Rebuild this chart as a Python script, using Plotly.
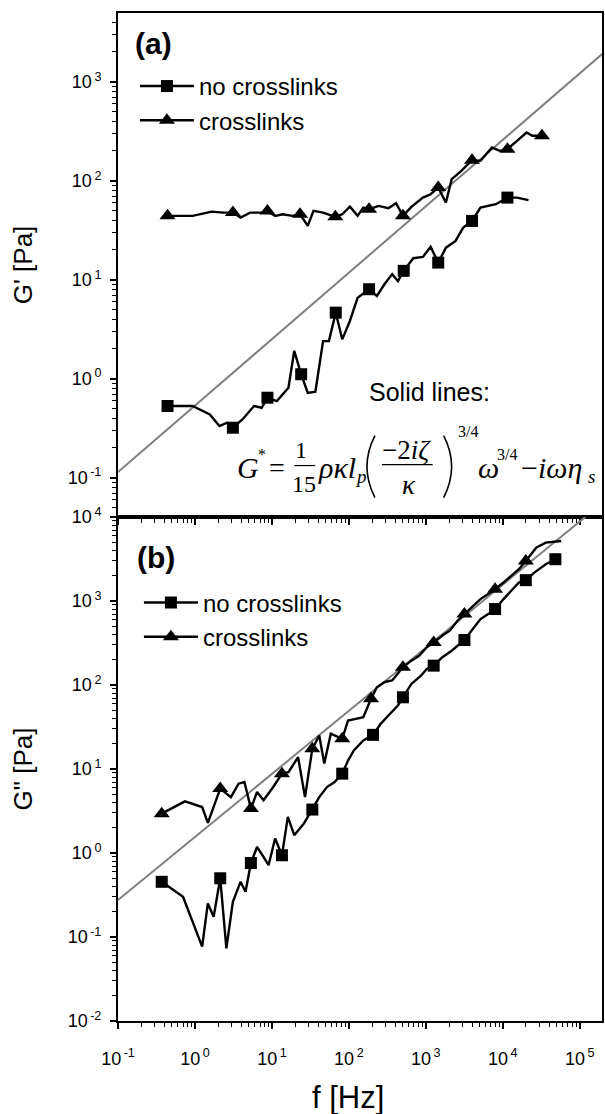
import plotly.graph_objects as go
from plotly.subplots import make_subplots

# ---------------- data ----------------
# Panel (a): G' vs f
a_nox_f = [0.44, 0.93, 1.56, 2.08, 2.62, 3.11, 4.14, 5.85, 7.36, 8.74, 11.6, 16.4, 19.5, 24.0,
           29.2, 36.7, 46.2, 55, 67.5, 82, 103, 130, 183, 231, 290, 365, 434, 516, 687, 916,
           1153, 1449, 1824, 2432, 3062, 3984, 5129, 8128, 11480, 15280, 21580]
a_nox_g = [0.53, 0.53, 0.436, 0.333, 0.359, 0.32, 0.388, 0.53, 0.509, 0.643, 0.594, 0.81, 1.91,
           1.11, 0.72, 0.74, 2.40, 2.40, 4.65, 2.50, 3.83, 6.59, 8.02, 6.86, 9.0, 11.4, 9.7, 12.3,
           16.5, 17.0, 21.5, 14.9, 21.1, 24.7, 33.6, 39.3, 53.6, 58, 67.6, 67.6, 63.7]
a_nox_mark = [1, 0, 0, 0, 0, 1, 0, 0, 0, 1, 0, 0, 0, 1, 0, 0, 0, 0, 1, 0, 0, 0, 1, 0, 0, 0, 0, 1,
              0, 0, 0, 1, 0, 0, 0, 1, 0, 0, 1, 0, 0]

a_x_f = [0.44, 0.93, 1.65, 2.33, 3.11, 3.91, 5.21, 7.36, 8.74, 11.0, 13.8, 18.4, 23.2, 29.2,
         34.7, 46.2, 66.7, 82, 103, 130, 154, 183, 244, 326, 410, 504, 649, 916, 1153, 1449,
         1824, 2168, 2891, 3984, 5129, 7244, 9120, 11480, 15280, 20370, 24210, 32280]
a_x_g = [44.2, 44.2, 48.8, 47.7, 47.7, 42.5, 47.7, 47.7, 49.6, 44.2, 45.9, 44.2, 45.9, 35,
         49.6, 47.7, 43.2, 45.9, 54.8, 44.2, 53.6, 51.6, 55.7, 52.8, 59.3, 44.2, 54.5, 67.6,
         73.1, 85.4, 60.2, 103.7, 126, 161.5, 159, 216.6, 200.6, 208.6, 253, 307, 284.5, 284.5]
a_x_mark = [1, 0, 0, 0, 1, 0, 0, 0, 1, 0, 0, 0, 1, 0, 0, 0, 1, 0, 0, 0, 0, 1, 0, 0, 0, 1, 0, 0,
            0, 1, 0, 0, 0, 1, 0, 0, 0, 1, 0, 0, 0, 1]

# Panel (b): G'' vs f
b_nox_f = [0.37, 0.70, 1.24, 1.47, 1.75, 2.13, 2.56, 3.11, 3.91, 4.54, 5.33, 6.41, 7.78, 9.04,
           11.0, 13.5, 16.1, 19.5, 26.0, 29.2, 33.5, 41.2, 51.9, 65.2, 82, 97.5, 116, 154, 206,
           259, 326, 434, 504, 649, 865, 1028, 1264, 1626, 2168, 2729, 3170, 4074, 5129, 6457,
           7943, 10230, 12850, 16180, 19900, 25650, 36140, 48200]
b_nox_g = [0.454, 0.301, 0.0767, 0.251, 0.174, 0.50, 0.0734, 0.262, 0.454, 0.345, 0.76, 1.18,
           0.90, 0.716, 1.49, 0.94, 2.69, 1.63, 2.24, 2.69, 3.29, 4.63, 6.10, 6.99, 8.8, 12.6,
           16.6, 21.9, 25.5, 34.5, 43.3, 56.9, 71.4, 103, 129, 155, 170, 213, 256, 307, 343, 463,
           610, 698, 802, 1054, 1321, 1660, 1771, 2180, 2742, 3143]
b_nox_mark = [1, 0, 0, 0, 0, 1, 0, 0, 0, 0, 1, 0, 0, 0, 0, 1, 0, 0, 0, 0, 1, 0, 0, 0, 1, 0, 0,
              0, 1, 0, 0, 0, 1, 0, 0, 0, 1, 0, 0, 0, 1, 0, 0, 0, 1, 0, 0, 0, 1, 0, 0, 1]

b_x_f = [0.37, 0.74, 1.24, 1.47, 2.13, 2.93, 3.69, 4.39, 5.33, 6.41, 7.78, 10.4, 13.5, 16.4,
         21.9, 26.9, 33.5, 41.2, 47.9, 58.2, 82, 97.5, 123, 154, 194, 231, 290, 365, 504, 649,
         817, 1028, 1264, 1626, 2046, 2576, 3170, 4074, 5129, 6457, 7943, 10230, 12850, 16180,
         19900, 27160, 36140, 57280]
b_x_g = [2.94, 4.12, 3.53, 2.28, 5.84, 4.63, 6.69, 6.99, 3.38, 5.32, 4.24, 6.10, 8.8, 9.19,
         13.8, 4.63, 17.4, 25.1, 11.6, 26.3, 22.9, 37.8, 39.5, 41.3, 68.4, 94, 108, 113, 162.5,
         195, 223, 281, 321, 386, 443, 582, 698, 877, 1054, 1208, 1384, 1660, 1992, 2393, 3002,
         4318, 4955, 5188]
b_x_mark = [1, 0, 0, 0, 1, 0, 0, 0, 1, 0, 0, 0, 1, 0, 0, 0, 1, 0, 0, 0, 1, 0, 0, 0, 1, 0, 0, 0,
            1, 0, 0, 0, 1, 0, 0, 0, 1, 0, 0, 0, 1, 0, 0, 0, 1, 0, 0, 0]

# theory ("solid lines") endpoints
fit_f = [0.1, 195000]
fit_a = [0.114, 1905]
fit_b = [0.275, 14600]

series_names = ["no crosslinks", "crosslinks"]

TS = "\u2009"
x_tickvals = [0.1, 1, 10, 100, 1000, 10000, 100000]
x_ticktext = ["10<sup>" + TS + "-1</sup>", "10<sup>" + TS + "0</sup>", "10<sup>" + TS + "1</sup>",
              "10<sup>" + TS + "2</sup>", "10<sup>" + TS + "3</sup>", "10<sup>" + TS + "4</sup>",
              "10<sup>" + TS + "5</sup>"]
ya_tickvals = [0.1, 1, 10, 100, 1000]
ya_ticktext = ["10<sup>" + TS + "-1</sup>", "10<sup>" + TS + "0</sup>", "10<sup>" + TS + "1</sup>",
               "10<sup>" + TS + "2</sup>", "10<sup>" + TS + "3</sup>"]
yb_tickvals = [0.01, 0.1, 1, 10, 100, 1000, 10000]
yb_ticktext = ["10<sup>" + TS + "-2</sup>", "10<sup>" + TS + "-1</sup>", "10<sup>" + TS + "0</sup>",
               "10<sup>" + TS + "1</sup>", "10<sup>" + TS + "2</sup>", "10<sup>" + TS + "3</sup>",
               "10<sup>" + TS + "4</sup>"]

# ---------------- layout geometry ----------------
W, H = 605, 1114
ML, MR, MT, MB = 118, 1, 12, 93
PW = W - ML - MR
PH = H - MT - MB


def px(x):
    return (x - ML) / PW


def py(y):
    return (H - MB - y) / PH


SANS = "Liberation Sans, Arial, Helvetica, sans-serif"
SERIF = "Liberation Serif, Times New Roman, serif"

fig = make_subplots(rows=2, cols=1, vertical_spacing=0)


def minor_vals(lo, hi):
    vals = []
    for e in range(lo, hi + 1):
        for k in range(2, 10):
            vals.append(k * 10.0 ** e)
    return vals


def add_series(f, g, flags, symbol, msize, name, row, legend, group):
    fig.add_trace(go.Scatter(
        x=f, y=g, mode="lines+markers", name=name, legend=legend, legendgroup=group,
        line=dict(color="black", width=2.4),
        marker=dict(symbol=symbol, size=msize, opacity=1, line=dict(width=0),
                    color=["black" if m else "rgba(0,0,0,0)" for m in flags]),
    ), row=row, col=1)


# theory lines
fig.add_trace(go.Scatter(x=fit_f, y=fit_a, mode="lines", showlegend=False,
                         line=dict(color="#7f7f7f", width=2)), row=1, col=1)
fig.add_trace(go.Scatter(x=fit_f, y=fit_b, mode="lines", showlegend=False,
                         line=dict(color="#7f7f7f", width=2)), row=2, col=1)

add_series(a_nox_f, a_nox_g, a_nox_mark, "square", 12, series_names[0], 1, "legend", "a1")
add_series(a_x_f, a_x_g, a_x_mark, "triangle-up", 14, series_names[1], 1, "legend", "a2")
add_series(b_nox_f, b_nox_g, b_nox_mark, "square", 12, series_names[0], 2, "legend2", "b1")
add_series(b_x_f, b_x_g, b_x_mark, "triangle-up", 14, series_names[1], 2, "legend2", "b2")

axis_common = dict(
    type="log", showline=True, linecolor="black", linewidth=2, mirror=True,
    ticks="outside", ticklen=6, tickwidth=1.5, tickcolor="black",
    showgrid=False, zeroline=False,
    tickfont=dict(family=SANS, size=18, color="black"),
)

fig.update_xaxes(range=[-1, 5.289], tickmode="array", tickvals=x_tickvals, ticktext=x_ticktext,
                 minor=dict(tickmode="array", tickvals=minor_vals(-1, 5), ticks="outside",
                            ticklen=4, tickwidth=1.2, tickcolor="black", showgrid=False),
                 **axis_common)
fig.update_xaxes(showticklabels=False, row=1, col=1)
fig.update_xaxes(ticklabelstandoff=14, row=2, col=1)

fig.update_yaxes(range=[-1.397, 3.695], tickmode="array", tickvals=ya_tickvals,
                 ticktext=ya_ticktext, ticklabelstandoff=5,
                 minor=dict(tickmode="array", tickvals=minor_vals(-2, 3), ticks="outside",
                            ticklen=4, tickwidth=1.2, tickcolor="black", showgrid=False),
                 title=dict(text="G' [Pa]", font=dict(family=SANS, size=26, color="black"),
                            standoff=28),
                 row=1, col=1, **axis_common)
fig.update_yaxes(range=[-2, 4], tickmode="array", tickvals=yb_tickvals, ticktext=yb_ticktext,
                 ticklabelstandoff=5,
                 minor=dict(tickmode="array", tickvals=minor_vals(-2, 3), ticks="outside",
                            ticklen=4, tickwidth=1.2, tickcolor="black", showgrid=False),
                 title=dict(text='G" [Pa]', font=dict(family=SANS, size=26, color="black"),
                            standoff=28),
                 row=2, col=1, **axis_common)

legend_common = dict(xanchor="left", yanchor="top", bgcolor="rgba(0,0,0,0)", borderwidth=0,
                     font=dict(family=SANS, size=24, color="black"), itemsizing="trace",
                     itemwidth=54, traceorder="grouped", tracegroupgap=0)

annotations = [
    dict(text="<b>(a)</b>", x=px(133), y=py(43), xanchor="left", yanchor="middle",
         font=dict(family=SANS, size=30, color="black")),
    dict(text="<b>(b)</b>", x=px(135), y=py(557), xanchor="left", yanchor="middle",
         font=dict(family=SANS, size=30, color="black")),
    dict(text="Solid lines:", x=px(368), y=py(391), xanchor="left", yanchor="middle",
         font=dict(family=SANS, size=25, color="black")),
    dict(text="f [Hz]", x=px(349), y=py(1098), xanchor="center", yanchor="middle",
         font=dict(family=SANS, size=31, color="black")),
]

# formula pieces: (text, x, y, size, xanchor)
FY = -3
formula = [
    ("<i>G</i>", 235, 470, 30, "left"),
    ("*", 257, 457, 16, "left"),
    ("=", 268, 470, 28, "left"),
    ("1", 302, 452, 24, "center"),
    ("15", 305, 486, 24, "center"),
    ("<i>ρκl</i>", 317, 470, 30, "left"),
    ("<i>p</i>", 354, 479, 19, "left"),
    ("−2<i>iζ</i>", 408, 452, 27, "center"),
    ("<i>κ</i>", 410, 487, 27, "center"),
    ("3/4", 457, 434, 16, "left"),
    ("<i>ω</i>", 477, 470, 30, "left"),
    ("3/4", 497, 457, 16, "left"),
    ("−<i>iωη</i>", 521, 470, 30, "left"),
    ("<i>s</i>", 588, 479, 19, "left"),
]
for txt, x, y, s, anc in formula:
    annotations.append(dict(text=txt, x=px(x), y=py(y + FY), xanchor=anc, yanchor="middle",
                            font=dict(family=SERIF, size=s, color="black")))
for a in annotations:
    a.update(xref="paper", yref="paper", showarrow=False)


def paren_path(x_end, x_ctrl, y_top, y_bot):
    ym = (y_top + y_bot) / 2
    return "M {:.5f},{:.5f} Q {:.5f},{:.5f} {:.5f},{:.5f}".format(
        px(x_end), py(y_top), px(x_ctrl), py(ym), px(x_end), py(y_bot))


shapes = [
    dict(type="line", xref="paper", yref="paper", x0=px(295), x1=px(316),
         y0=py(468 + FY), y1=py(468 + FY), line=dict(color="black", width=1.2)),
    dict(type="line", xref="paper", yref="paper", x0=px(383), x1=px(434),
         y0=py(467 + FY), y1=py(467 + FY), line=dict(color="black", width=1.2)),
    dict(type="path", xref="paper", yref="paper", path=paren_path(376, 360, 438 + FY, 500 + FY),
         line=dict(color="black", width=1.6)),
    dict(type="path", xref="paper", yref="paper", path=paren_path(445, 461, 438 + FY, 500 + FY),
         line=dict(color="black", width=1.6)),
]

fig.update_layout(
    width=W, height=H, margin=dict(l=ML, r=MR, t=MT, b=MB),
    paper_bgcolor="white", plot_bgcolor="white",
    legend=dict(x=px(135), y=py(63), **legend_common),
    legend2=dict(x=px(139), y=py(580), **legend_common),
    annotations=annotations, shapes=shapes,
    font=dict(family=SANS, color="black"),
)

fig.write_html("out.html", config={"displayModeBar": False},
               post_script="document.body.style.margin='0';document.body.style.padding='0';")
